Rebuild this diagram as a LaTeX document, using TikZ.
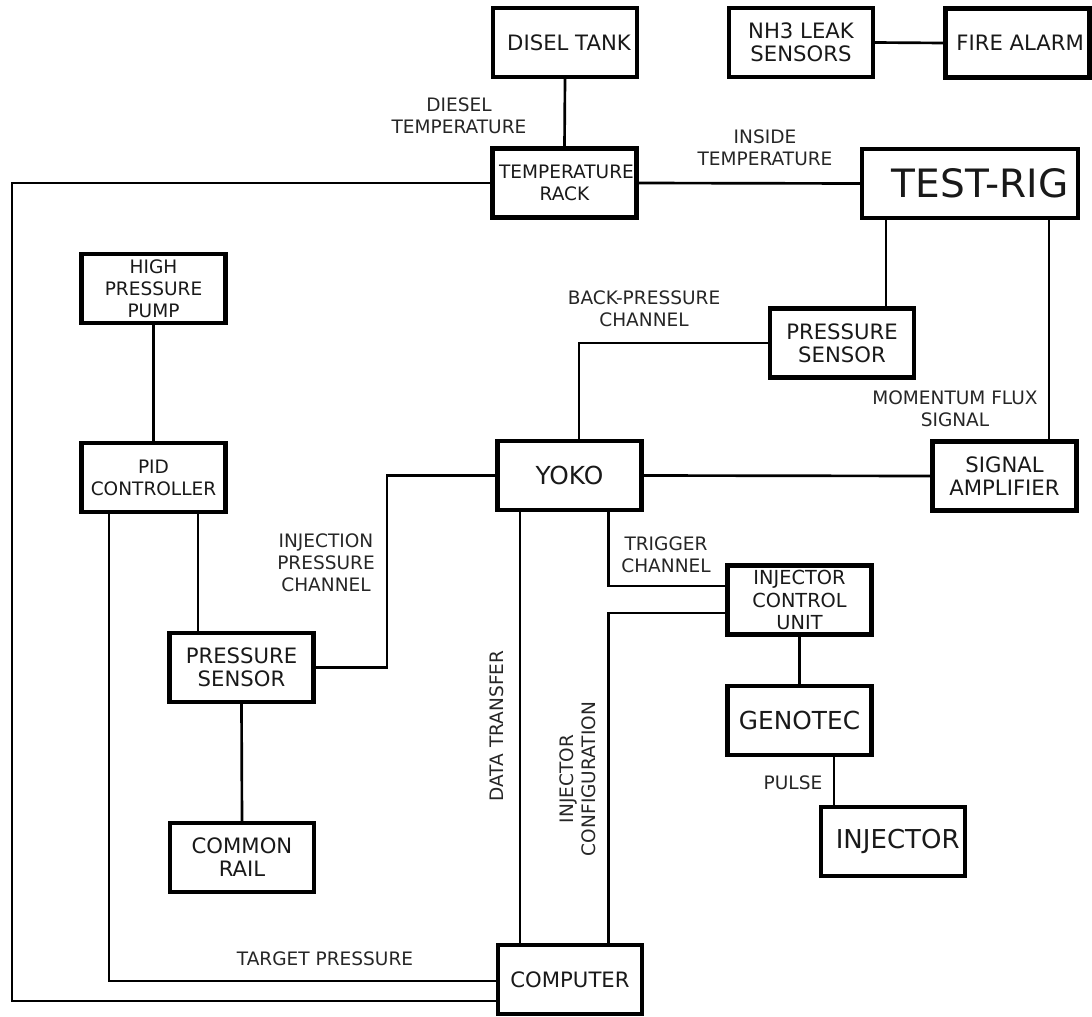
\documentclass[tikz,border=0pt]{standalone}
\usepackage{fontspec}
\setmainfont{DejaVu Sans}
\usetikzlibrary{calc}
\begin{document}
\begin{tikzpicture}[x=0.75pt,y=-0.75pt,
  box/.style={draw=black, line width=3.2pt, minimum width=108pt, minimum height=51.75pt, inner sep=0pt, align=center, text=black!90},
  fa/.style={font=\fontsize{15.9pt}{17.2pt}\selectfont},
  fb/.style={font=\fontsize{13.9pt}{16.6pt}\selectfont},
  fbig/.style={font=\fontsize{18.6pt}{20pt}\selectfont},
  lbl/.style={inner sep=0pt, align=center, text=black!85, font=\fontsize{13.9pt}{16.5pt}\selectfont},
  wire/.style={draw=black, line width=2pt}
]
\useasboundingbox (0,0) rectangle (1092,1017);

% boxes
\node[box,fa] (disel) at (565,42.5) {\hspace*{6pt}DISEL TANK};
\node[box,fa] (nh3) at (801,42.5) {NH3 LEAK\\SENSORS};
\node[box,fa] (fire) at (1017.5,43) {\hspace*{4pt}FIRE ALARM};
\node[box,fb] (temp) at (564.5,183) {\hspace*{3pt}TEMPERATURE\\RACK};
\node[box, minimum width=162pt, font=\fontsize{29.3pt}{30pt}\selectfont] (testrig) at (970,183.5) {\hspace*{15pt}TEST-RIG};
\node[box,fb] (hpp) at (153.5,288.5) {HIGH\\PRESSURE\\PUMP};
\node[box,fb] (pid) at (153.5,477.5) {PID\\CONTROLLER};
\node[box,fa] (ps2) at (842,343) {PRESSURE\\SENSOR};
\node[box,fbig] (yoko) at (569.5,475.5) {YOKO};
\node[box,fa] (sa) at (1004.5,476) {SIGNAL\\AMPLIFIER};
\node[box,font=\fontsize{14.5pt}{16.8pt}\selectfont] (icu) at (799.5,600) {INJECTOR\\CONTROL\\UNIT};
\node[box,fa] (ps1) at (241.5,667.5) {PRESSURE\\SENSOR};
\node[box,fbig] (genotec) at (799.5,720.5) {GENOTEC};
\node[box,font=\fontsize{19.5pt}{21pt}\selectfont] (injector) at (893,841.5) {\hspace*{7pt}INJECTOR};
\node[box,fa] (common) at (242,857.5) {COMMON\\RAIL};
\node[box,fa] (computer) at (570,979.5) {COMPUTER};

% column coordinates
\coordinate (loopc) at (12,1001);
\coordinate (tp) at (109,981);
\coordinate (c198) at (198,0);
\coordinate (c387) at (387,0);
\coordinate (c579) at (579,0);
\coordinate (c886) at (886,0);
\coordinate (c1049) at (1049,0);
\coordinate (c520) at (520,0);
\coordinate (c609) at (608.5,0);
\coordinate (c834) at (834,0);

% connectors
\draw[wire] (disel.south) -- (temp.north);
\draw[wire] (nh3.east) -- (fire.west);
\draw[wire] (temp.east) -- (testrig.west);
\draw[wire] (temp.west) -| (loopc) -- ($(computer.west)+(0,21.5)$);
\draw[wire] (hpp.south) -- (pid.north);
\draw[wire] (pid.south -| c198) -- (ps1.north -| c198);
\draw[wire] (pid.south -| tp) -- (tp) -- (computer.west |- tp);
\draw[wire] (ps1.east) -| (yoko.west -| c387) -- (yoko.west);
\draw[wire] (yoko.north -| c579) |- (ps2.west);
\draw[wire] (testrig.south -| c886) -- (ps2.north -| c886);
\draw[wire] (testrig.south -| c1049) -- (sa.north -| c1049);
\draw[wire] (yoko.east) -- (sa.west);
\draw[wire] (yoko.south -| c520) -- (computer.north -| c520);
\draw[wire] (yoko.south -| c609) |- ($(icu.west)+(0,-14)$);
\draw[wire] ($(icu.west)+(0,13)$) -| (computer.north -| c609);
\draw[wire] (icu.south) -- (genotec.north);
\draw[wire] (genotec.south -| c834) -- (injector.north -| c834);
\draw[wire] (ps1.south) -- (common.north);

% labels
\node[lbl] (ldiesel) at (459,116) {DIESEL\\TEMPERATURE};
\node[lbl] (linside) at (765,148) {INSIDE\\TEMPERATURE};
\node[lbl] (lback) at (644,308.5) {BACK-PRESSURE\\CHANNEL};
\node[lbl] (lmom) at (955,409) {MOMENTUM FLUX\\SIGNAL};
\node[lbl] (linj) at (326,562.5) {INJECTION\\PRESSURE\\CHANNEL};
\node[lbl] (ltrig) at (666,555) {TRIGGER\\CHANNEL};
\node[lbl] (ltarget) at (325,959) {TARGET PRESSURE};
\node[lbl] (lpulse) at (793,783) {PULSE};
\node[lbl, rotate=90] (ldata) at (497,726) {DATA TRANSFER};
\node[lbl, rotate=90] (lconf) at (577.5,779) {INJECTOR\\CONFIGURATION};
\end{tikzpicture}
\end{document}
